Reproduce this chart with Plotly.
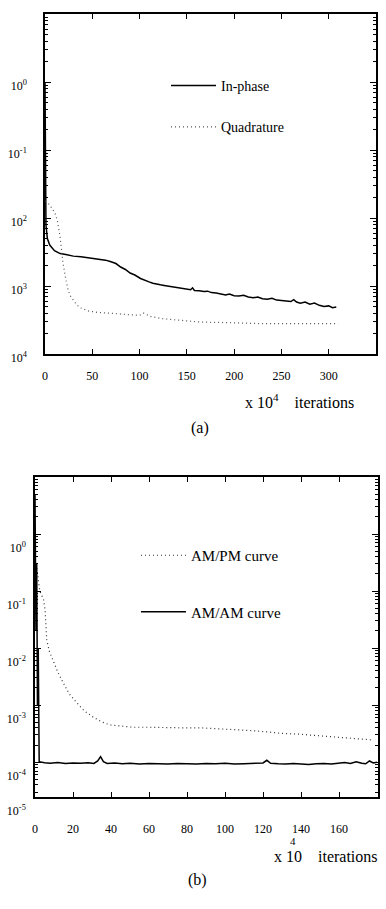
import plotly.graph_objects as go

# ---------------- data: panel (a) ----------------
inphase_x = [0, 0.5, 1, 2.5, 5, 10, 16, 22, 30, 38, 45, 52, 58, 64, 69, 75, 80, 85, 90, 95, 101, 106,
             110, 114, 118, 122, 126, 130, 134, 138, 142, 146, 150, 154, 156, 158, 163, 168, 172, 176,
             181, 186, 191, 195, 200, 205, 210, 215, 220, 225, 230, 235, 240, 245, 250, 255, 260, 263,
             266, 270, 275, 280, 285, 290, 295, 300, 304, 308]
inphase_y = [1.0, 1.58e-2, 7.9e-3, 5.0e-3, 4.0e-3, 3.3e-3, 3.0e-3, 2.9e-3, 2.75e-3, 2.7e-3, 2.63e-3,
             2.55e-3, 2.45e-3, 2.4e-3, 2.29e-3, 2.14e-3, 1.9e-3, 1.75e-3, 1.55e-3, 1.45e-3, 1.29e-3, 1.2e-3,
             1.15e-3, 1.10e-3, 1.06e-3, 1.04e-3, 1.02e-3, 1.00e-3, 9.7e-4, 9.5e-4, 9.4e-4, 9.2e-4, 9.0e-4,
             8.8e-4, 9.4e-4, 8.6e-4, 8.5e-4, 8.3e-4, 8.4e-4, 8.0e-4, 7.9e-4, 7.7e-4, 7.4e-4, 7.6e-4, 7.2e-4,
             7.1e-4, 7.3e-4, 6.9e-4, 6.7e-4, 6.9e-4, 6.5e-4, 6.4e-4, 6.6e-4, 6.2e-4, 6.1e-4, 6.0e-4, 5.9e-4,
             6.3e-4, 5.8e-4, 5.6e-4, 5.8e-4, 5.4e-4, 5.6e-4, 5.2e-4, 5.0e-4, 5.1e-4, 4.8e-4, 4.9e-4]

quad_x = [0.5, 1, 3.2, 6, 10.6, 13, 16, 19, 22, 24.4, 27, 29.7, 33, 37, 45.6, 55, 65.7, 80, 95, 100,
          104, 108, 112, 125, 143, 164, 190, 228, 270, 310]
quad_y = [1.78e-2, 1.74e-2, 1.66e-2, 1.48e-2, 1.17e-2, 9.3e-3, 5.2e-3, 2.19e-3, 1.26e-3, 8.7e-4, 7.1e-4,
          6.2e-4, 5.4e-4, 4.8e-4, 4.3e-4, 4.1e-4, 4.0e-4, 3.9e-4, 3.7e-4, 3.7e-4, 4.0e-4, 3.8e-4, 3.55e-4,
          3.3e-4, 3.1e-4, 2.95e-4, 2.9e-4, 2.8e-4, 2.8e-4, 2.8e-4]

a_xticks = [0, 50, 100, 150, 200, 250, 300]
a_yticks = [1, 1e-1, 1e-2, 1e-3, 1e-4]
a_yticktext = ["10<sup>0</sup>", "10<sup>-1</sup>", "10<sup>2</sup>", "10<sup>3</sup>", "10<sup>4</sup>"]

# ---------------- data: panel (b) ----------------
ampm_x = [1, 2.5, 3.5, 4.5, 5.3, 6.2, 7.5, 9.5, 12, 14.9, 18, 22, 26, 30.5, 35, 39.5, 45, 51.6, 60, 69,
          78, 87, 95, 104, 113, 122, 130, 139, 148, 157, 166, 178]
ampm_y = [2.5e-1, 1.0e-1, 8.5e-2, 7.1e-2, 4.7e-2, 1.38e-2, 8.9e-3, 6.2e-3, 3.8e-3, 2.45e-3, 1.58e-3,
          1.10e-3, 7.9e-4, 6.2e-4, 5.1e-4, 4.5e-4, 4.3e-4, 4.1e-4, 4.1e-4, 4.0e-4, 4.0e-4, 4.0e-4, 3.9e-4,
          3.8e-4, 3.6e-4, 3.4e-4, 3.2e-4, 3.1e-4, 2.95e-4, 2.75e-4, 2.6e-4, 2.45e-4]

amam_x = [0.0, 0.5, 0.9, 1.3, 1.7, 2.0, 2.2, 5, 8, 12, 16, 20, 24, 28, 31, 33, 34.5, 36, 38, 42, 46, 50,
          55, 60, 65, 70, 75, 80, 85, 90, 95, 100, 105, 110, 115, 120, 122, 124, 128, 132, 136, 140, 144,
          148, 152, 156, 160, 163, 166, 169, 172, 174, 176, 178, 180]
amam_y = [5.0, 2.0e-2, 3.0e-1, 1.0e-3, 1.0e-2, 2.0e-4, 1.02e-4, 0.98e-4, 0.96e-4, 0.99e-4, 0.95e-4,
          0.97e-4, 0.96e-4, 0.98e-4, 0.95e-4, 1.05e-4, 1.25e-4, 1.02e-4, 0.95e-4, 0.97e-4, 0.94e-4, 0.96e-4,
          0.93e-4, 0.95e-4, 0.94e-4, 0.93e-4, 0.95e-4, 0.94e-4, 0.93e-4, 0.95e-4, 0.94e-4, 0.96e-4, 0.93e-4,
          0.94e-4, 0.95e-4, 0.97e-4, 1.08e-4, 0.96e-4, 0.94e-4, 0.93e-4, 0.95e-4, 0.92e-4, 0.91e-4, 0.94e-4,
          0.95e-4, 0.93e-4, 0.96e-4, 0.99e-4, 0.95e-4, 1.02e-4, 0.96e-4, 0.94e-4, 1.05e-4, 0.97e-4, 1.0e-4]

b_xticks = [0, 20, 40, 60, 80, 100, 120, 140, 160]
b_yticks = [1, 1e-1, 1e-2, 1e-3, 1e-4, 10 ** -4.61]
b_yticktext = ["10<sup>0</sup>", "10<sup>-1</sup>", "10<sup>-2</sup>", "10<sup>-3</sup>",
               "10<sup>-4</sup>", "10<sup>-5</sup>"]

# ---------------- figure ----------------
W, H = 386, 909
FONT = "Liberation Serif"


def px_x(p):
    return p / W


def px_y(p):
    return 1 - p / H


minor_vals = [m * 10 ** e for e in range(-6, 2) for m in range(2, 10)]

fig = go.Figure()

fig.add_trace(go.Scatter(x=inphase_x, y=inphase_y, mode="lines", name="In-phase",
                         line=dict(color="black", width=1.5), xaxis="x", yaxis="y",
                         legend="legend", legendgroup="a1"))
fig.add_trace(go.Scatter(x=quad_x, y=quad_y, mode="lines", name="Quadrature",
                         line=dict(color="#555555", width=1.2, dash="1px,3px"), xaxis="x", yaxis="y",
                         legend="legend", legendgroup="a2"))
fig.add_trace(go.Scatter(x=ampm_x, y=ampm_y, mode="lines", name="AM/PM curve",
                         line=dict(color="#333333", width=1.2, dash="1px,3px"), xaxis="x2", yaxis="y2",
                         legend="legend2", legendgroup="b1"))
fig.add_trace(go.Scatter(x=amam_x, y=amam_y, mode="lines", name="AM/AM curve",
                         line=dict(color="black", width=1.5), xaxis="x2", yaxis="y2",
                         legend="legend2", legendgroup="b2"))

common_x = dict(showline=True, linecolor="black", linewidth=1.5, mirror="ticks", ticks="inside",
                ticklen=5, tickcolor="black", showgrid=False, zeroline=False, automargin=False,
                tickfont=dict(family=FONT, size=12, color="black"))
common_y = dict(type="log", showline=True, linecolor="black", linewidth=1.5, mirror="allticks",
                ticks="inside", ticklen=6, tickcolor="black", showgrid=False, zeroline=False,
                automargin=False,
                tickfont=dict(family=FONT, size=12, color="black"),
                minor=dict(ticks="inside", ticklen=3, tickcolor="black", tickmode="array",
                           tickvals=minor_vals, showgrid=False))

fig.update_layout(
    template="none",
    width=W, height=H, autosize=False,
    margin=dict(l=0, r=0, t=0, b=0, pad=0, autoexpand=False),
    paper_bgcolor="white", plot_bgcolor="white",
    font=dict(family=FONT, color="black"),
    xaxis=dict(common_x, domain=[px_x(45), px_x(376)], range=[0, 350], anchor="y",
               tickmode="array", tickvals=a_xticks, ticktext=[str(v) for v in a_xticks],
               ticklabelstandoff=10),
    yaxis=dict(common_y, domain=[px_y(354), px_y(14)], range=[-4, 1], anchor="x",
               tickmode="array", tickvals=a_yticks, ticktext=a_yticktext,
               ticklabelstandoff=14, ticklabelshift=4),
    xaxis2=dict(common_x, domain=[px_x(35), px_x(378)], range=[0, 180.5], anchor="y2",
                tickmode="array", tickvals=b_xticks, ticktext=[str(v) for v in b_xticks],
                ticklabelstandoff=20),
    yaxis2=dict(common_y, domain=[px_y(797), px_y(477)], range=[-4.61, 1], anchor="x2",
                tickmode="array", tickvals=b_yticks, ticktext=b_yticktext,
                ticklabelstandoff=5, ticklabelshift=14),
    legend=dict(x=px_x(166), y=px_y(70), xanchor="left", yanchor="top",
                bgcolor="rgba(0,0,0,0)", font=dict(family=FONT, size=14, color="black"),
                tracegroupgap=20, traceorder="grouped", itemwidth=45),
    legend2=dict(x=px_x(136), y=px_y(539), xanchor="left", yanchor="top",
                 bgcolor="rgba(0,0,0,0)", font=dict(family=FONT, size=15, color="black"),
                 tracegroupgap=34, traceorder="grouped", itemwidth=45),
    showlegend=True,
)

annots = [
    dict(text="x 10<sup>4</sup>    iterations", x=px_x(243), y=px_y(401), xanchor="left", yanchor="middle",
         font=dict(size=16)),
    dict(text="(a)", x=px_x(200), y=px_y(428), xanchor="center", yanchor="middle", font=dict(size=16)),
    dict(text="4", x=px_x(293), y=px_y(841), xanchor="center", yanchor="middle", font=dict(size=11)),
    dict(text="x 10    iterations", x=px_x(272), y=px_y(856), xanchor="left", yanchor="middle",
         font=dict(size=16)),
    dict(text="(b)", x=px_x(197), y=px_y(880), xanchor="center", yanchor="middle", font=dict(size=16)),
]
for a in annots:
    a.update(xref="paper", yref="paper", showarrow=False)
    a["font"].update(family=FONT, color="black")
fig.update_layout(annotations=annots)

fig.write_html("out.html", config={"displayModeBar": False},
               post_script="document.body.style.margin='0';document.body.style.overflow='hidden';")
